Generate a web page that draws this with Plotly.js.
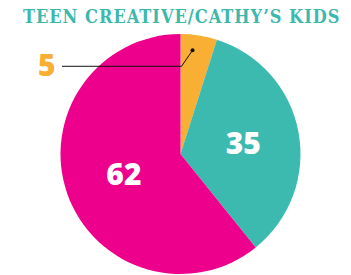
<!DOCTYPE html>
<html><head><meta charset="utf-8">
<script src="https://cdn.plot.ly/plotly-3.0.1.min.js"></script>
<style>html,body{margin:0;padding:0;background:#fff}#c{width:351px;height:275px}
.gtitle{letter-spacing:1px}</style>
</head><body><div id="c"></div>
<script>
const categories = ['Orange', 'Teal', 'Magenta'];
const values = [5, 35, 62];
const colors = ['#F8AF33', '#3DBAAF', '#EC008C'];
const titleText = 'TEEN CREATIVE/CATHY\u2019S KIDS';

const W = 351, H = 275, L = 60, R = 50, T = 34, B = 1;
const pw = W - L - R, ph = H - T - B;
const rad = Math.min(pw, ph) / 2;
const cx = L + pw / 2, cy = T + ph / 2;
const total = values.reduce((a, b) => a + b, 0);
const px2x = p => (p - L) / pw;
const py2y = p => 1 - (p - T) / ph;

// leader for smallest slice
const midAng = 0.75 * (values[0] / 2) / total * 2 * Math.PI;
const dotX = cx + 0.87 * rad * Math.sin(midAng);
const dotY = cy - 0.87 * rad * Math.cos(midAng);
const elbowX = dotX - 11, elbowY = dotY + 16;
const lineEndX = 62;

const data = [{
  type: 'pie', labels: categories, values: values, sort: false,
  direction: 'clockwise', rotation: 0,
  marker: {colors: colors, line: {width: 0}},
  texttemplate: ['', '%{value}', '%{value}'],
  textposition: 'inside', insidetextorientation: 'horizontal',
  textfont: {family: 'Open Sans', size: 30, color: '#fff', weight: 800},
  hoverinfo: 'none', showlegend: false
}];
const layout = {
  width: W, height: H, margin: {l: L, r: R, t: T, b: B},
  paper_bgcolor: '#fff',
  title: {text: titleText, x: 0.505, xref: 'paper', y: 0.94, yref: 'container', yanchor: 'middle',
    font: {family: 'DejaVu Serif Condensed', size: 18, color: '#3DB8AD', weight: 700}},
  shapes: [
    {type: 'path', xref: 'paper', yref: 'paper',
     path: `M ${px2x(lineEndX)} ${py2y(elbowY)} L ${px2x(elbowX)} ${py2y(elbowY)} L ${px2x(dotX)} ${py2y(dotY)}`,
     line: {color: '#111', width: 1}},
    {type: 'circle', xref: 'paper', yref: 'paper',
     x0: px2x(dotX - 2), x1: px2x(dotX + 2), y0: py2y(dotY + 2), y1: py2y(dotY - 2),
     fillcolor: '#111', line: {width: 0}}
  ],
  annotations: [{xref: 'paper', yref: 'paper', x: px2x(lineEndX - 4), y: py2y(elbowY - 2),
    xanchor: 'right', yanchor: 'middle', showarrow: false, text: String(values[0]),
    font: {family: 'Open Sans', size: 30, color: colors[0], weight: 800}}]
};
Plotly.newPlot('c', data, layout, {displayModeBar: false, staticPlot: true});
</script></body></html>
